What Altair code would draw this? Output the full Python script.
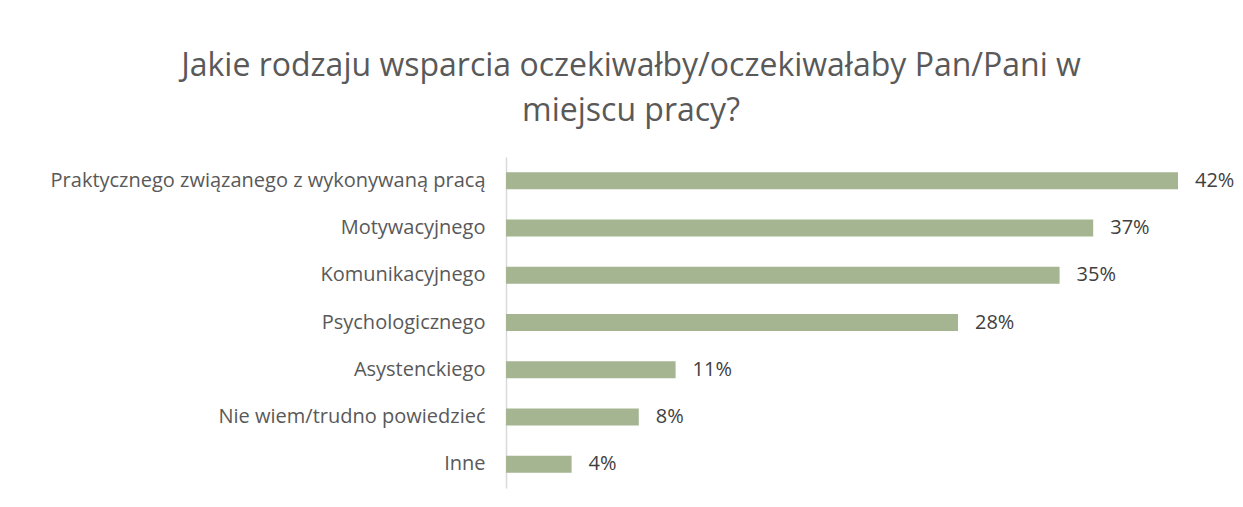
import altair as alt
import pandas as pd

categories = [
    "Praktycznego związanego z wykonywaną pracą",
    "Motywacyjnego",
    "Komunikacyjnego",
    "Psychologicznego",
    "Asystenckiego",
    "Nie wiem/trudno powiedzieć",
    "Inne",
]
values = [0.42, 0.367, 0.346, 0.2825, 0.106, 0.083, 0.041]

df = pd.DataFrame({"kategoria": categories, "wartosc": values})

FONT = "Open Sans"

y = alt.Y(
    "kategoria:N",
    sort=categories,
    scale=alt.Scale(paddingInner=0.64, paddingOuter=0.32),
    axis=alt.Axis(
        title=None,
        ticks=False,
        domainColor="#d9d9d9",
        domainWidth=1.5,
        labelFont=FONT,
        labelFontSize=20,
        labelColor="#595959",
        labelPadding=21,
        labelLimit=600,
    ),
)
x = alt.X(
    "wartosc:Q",
    scale=alt.Scale(domain=[0, 0.45], nice=False),
    axis=None,
)

bars = alt.Chart(df).mark_bar(color="#a5b592").encode(x=x, y=y)
labels = alt.Chart(df).mark_text(
    align="left", dx=17, font=FONT, fontSize=20, color="#404040"
).encode(x=x, y=y, text=alt.Text("wartosc:Q", format=".0%"))

chart = (
    alt.layer(bars, labels)
    .properties(
        width=720,
        height=331,
        title=alt.TitleParams(
            text=[
                "Jakie rodzaju wsparcia oczekiwałby/oczekiwałaby Pan/Pani w",
                "miejscu pracy?",
            ],
            font=FONT,
            fontSize=32,
            fontWeight="normal",
            color="#595959",
            lineHeight=45,
            anchor="middle",
            dx=-235,
            offset=29,
        ),
        autosize=alt.AutoSizeParams(type="none"),
        padding={"left": 498, "top": 149, "right": 9, "bottom": 11},
    )
    .configure_view(stroke=None)
)

chart.save("out.html", embed_options={"renderer": "svg", "actions": False})
